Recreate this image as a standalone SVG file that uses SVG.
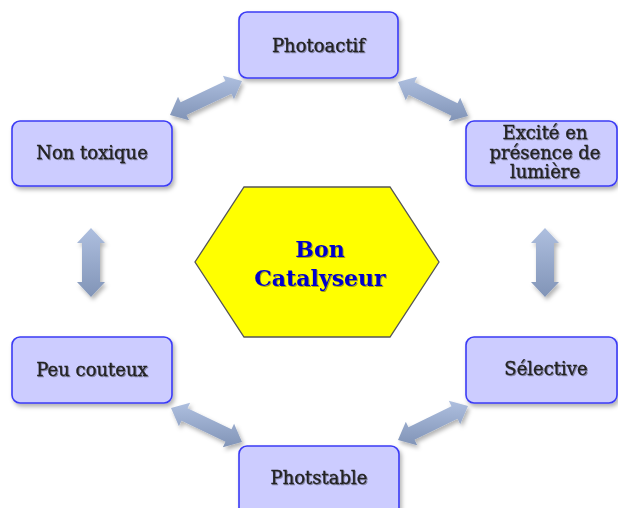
<svg xmlns="http://www.w3.org/2000/svg" width="618" height="508" viewBox="0 0 618 508">
<defs>
<linearGradient id="arrowGrad" x1="0" y1="0" x2="0" y2="1">
<stop offset="0" stop-color="#aebfdf"/>
<stop offset="1" stop-color="#8194b7"/>
</linearGradient>
<filter id="shadow" x="-20%" y="-20%" width="150%" height="150%">
<feDropShadow dx="2" dy="3" stdDeviation="2" flood-color="#000" flood-opacity="0.3"/>
</filter>
<filter id="tshadow" x="-10%" y="-20%" width="120%" height="150%">
<feDropShadow dx="1" dy="1" stdDeviation="0.6" flood-color="#000" flood-opacity="0.35"/>
</filter>
</defs>
<style>
.box{fill:#ccccff;stroke:#3b3bf5;stroke-width:1.6;filter:url(#shadow)}
.lbl{font-family:"DejaVu Serif","Liberation Serif",serif;font-size:18px;fill:#222;stroke:#222;stroke-width:0.35;text-anchor:middle;filter:url(#tshadow)}
.arrow{fill:url(#arrowGrad);filter:url(#shadow)}
.hex{fill:#ffff00;stroke:#555;stroke-width:1.3}
.hlbl{font-family:"DejaVu Serif","Liberation Serif",serif;font-size:22px;font-weight:bold;fill:#0000cc;text-anchor:middle;filter:url(#tshadow)}
</style>
<rect width="618" height="508" fill="#ffffff"/>
<g id="connectors">
<polygon class="arrow" points="170,115 189.12,120.35 186.56,114.92 231.42,93.74 233.98,99.17 242,81 222.88,75.65 225.44,81.08 180.58,102.26 178.02,96.83"/>
<polygon class="arrow" points="398,82 405.81,100.24 408.43,94.85 451.45,115.75 448.83,121.14 468,116 460.19,97.76 457.57,103.15 414.55,82.25 417.17,76.86"/>
<polygon class="arrow" points="91,228 77,243 82,243 82,282 77,282 91,297 105,282 100,282 100,243 105,243"/>
<polygon class="arrow" points="545,228 531,243 536,243 536,282 531,282 545,297 559,282 554,282 554,243 559,243"/>
<polygon class="arrow" points="171,408 178.91,426.21 181.51,420.79 225.45,441.83 222.85,447.25 242,442 234.09,423.79 231.49,429.21 187.55,408.17 190.15,402.75"/>
<polygon class="arrow" points="398,440 417.17,445.14 414.55,439.75 457.57,418.85 460.19,424.24 468,406 448.83,400.86 451.45,406.25 408.43,427.15 405.81,421.76"/>
</g>
<g id="photoactif">
<rect class="box" x="239" y="12" width="159" height="66" rx="8"/>
<text class="lbl" x="318.5" y="52">Photoactif</text>
</g>
<g id="non-toxique">
<rect class="box" x="12" y="121" width="160" height="65" rx="8"/>
<text class="lbl" x="92" y="159">Non toxique</text>
</g>
<g id="excite">
<rect class="box" x="466" y="121" width="151" height="65" rx="8"/>
<text class="lbl" x="545" y="139">Excité en</text>
<text class="lbl" x="545" y="158.5">présence de</text>
<text class="lbl" x="545" y="178">lumière</text>
</g>
<g id="selective">
<rect class="box" x="466" y="337" width="151" height="66" rx="8"/>
<text class="lbl" x="546" y="375">Sélective</text>
</g>
<g id="peu-couteux">
<rect class="box" x="12" y="337" width="160" height="66" rx="8"/>
<text class="lbl" x="92" y="376">Peu couteux</text>
</g>
<g id="photstable">
<rect class="box" x="239" y="446" width="160" height="72" rx="8"/>
<text class="lbl" x="319" y="484">Photstable</text>
</g>
<g id="bon-catalyseur">
<polygon class="hex" points="244,187 390,187 439,262 390,337 244,337 195,262"/>
<text class="hlbl" x="320" y="257">Bon</text>
<text class="hlbl" x="320" y="286">Catalyseur</text>
</g>
</svg>
